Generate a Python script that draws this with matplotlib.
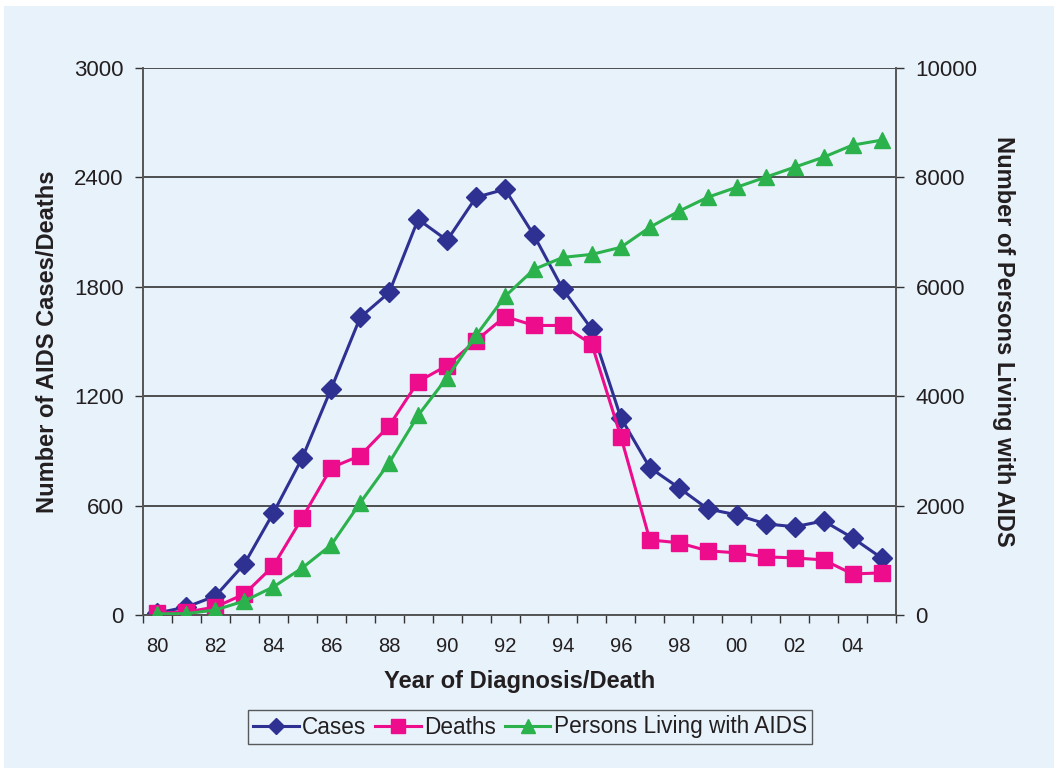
import matplotlib
matplotlib.use("Agg")
import matplotlib.pyplot as plt
from matplotlib.patches import Rectangle
import numpy as np

plt.rcParams['font.family'] = ['Liberation Sans', 'DejaVu Sans']

years = ['80', '81', '82', '83', '84', '85', '86', '87', '88', '89', '90', '91', '92',
         '93', '94', '95', '96', '97', '98', '99', '00', '01', '02', '03', '04', '05']
cases = [11, 44, 104, 280, 560, 862, 1242, 1632, 1769, 2170, 2055, 2291, 2335,
         2082, 1786, 1566, 1082, 808, 698, 582, 549, 500, 484, 516, 423, 313]
deaths = [11, 16, 44, 115, 269, 533, 808, 874, 1038, 1280, 1368, 1505, 1637,
          1588, 1588, 1484, 978, 412, 396, 352, 341, 319, 313, 302, 225, 231]
living = [20, 25, 92, 256, 513, 861, 1282, 2051, 2784, 3650, 4341, 5110, 5824,
          6319, 6538, 6593, 6722, 7088, 7381, 7637, 7820, 8004, 8187, 8370, 8590, 8681]
left_ticks = [0, 600, 1200, 1800, 2400, 3000]
right_ticks = [0, 2000, 4000, 6000, 8000, 10000]

BG = '#E8F2FB'
C_CASES = '#2E3192'
C_DEATHS = '#EC0C8C'
C_LIVING = '#2BB24C'
TXT = '#231F20'

fig = plt.figure(figsize=(10.54, 7.68), dpi=100)
fig.patch.set_facecolor(BG)
fig.patches.append(Rectangle((0, 1 - 6 / 768), 1, 6 / 768, transform=fig.transFigure,
                             facecolor='white', edgecolor='none', zorder=0))
fig.patches.append(Rectangle((0, 0), 4 / 1054, 1, transform=fig.transFigure,
                             facecolor='white', edgecolor='none', zorder=0))

ax = fig.add_axes([143 / 1054, 1 - 615 / 768, (896 - 143) / 1054, (615 - 68) / 768])
ax.set_facecolor(BG)
ax2 = ax.twinx()
ax2.patch.set_visible(False)

x = np.arange(len(years))
l1, = ax.plot(x, cases, color=C_CASES, lw=2.2, marker='D', ms=10.5, label='Cases', zorder=3)
l2, = ax.plot(x, deaths, color=C_DEATHS, lw=2.2, marker='s', ms=12, label='Deaths', zorder=4)
l3, = ax2.plot(x, living, color=C_LIVING, lw=2.2, marker='^', ms=12,
               label='Persons Living with AIDS', zorder=5)

ax.set_xlim(-0.5, len(years) - 0.5)
ax.set_ylim(0, 3000)
ax2.set_ylim(0, 10000)

ax.set_yticks(left_ticks)
ax.set_yticklabels([str(v) for v in left_ticks])
ax2.set_yticks(right_ticks)
ax2.set_yticklabels([str(v) for v in right_ticks])

ax.set_xticks(x[::2])
ax.set_xticklabels(years[::2])
ax.set_xticks(np.arange(-0.5, len(years), 1.0), minor=True)
ax.tick_params(axis='x', which='major', length=0, pad=16, labelsize=14.5, colors=TXT)
ax.tick_params(axis='x', which='minor', length=6, width=1, color='#333333', direction='out')
ax.tick_params(axis='y', length=6, width=1, color='#333333', pad=8, labelsize=16,
               labelcolor=TXT)
ax2.tick_params(axis='y', length=6, width=1, color='#333333', pad=8, labelsize=16,
                labelcolor=TXT)

for a in (ax, ax2):
    a.spines['top'].set_visible(False)
    for s in ('left', 'right', 'bottom'):
        a.spines[s].set_color('#555555')
        a.spines[s].set_linewidth(1.2)

ax.yaxis.grid(True, color='#222222', lw=1.1)
ax.set_axisbelow(True)

ax.set_xlabel('Year of Diagnosis/Death', fontsize=17, fontweight='bold', color=TXT,
              labelpad=10)
ax.set_ylabel('Number of AIDS Cases/Deaths', fontsize=17, fontweight='bold', color=TXT,
              labelpad=11)
ax2.set_ylabel('Number of Persons Living with AIDS', fontsize=17, fontweight='bold',
               color=TXT, rotation=270, labelpad=27)

leg = fig.legend(handles=[l1, l2, l3], loc='center', bbox_to_anchor=(530 / 1054, 1 - 727 / 768),
                 ncol=3, frameon=True, fancybox=False, fontsize=16.3, handlelength=2.0,
                 handletextpad=0.15, columnspacing=0.4, borderpad=0.25, markerscale=0.8)
leg.get_frame().set_edgecolor('#333333')
leg.get_frame().set_facecolor(BG)
leg.get_frame().set_linewidth(1.0)
for t in leg.get_texts():
    t.set_color(TXT)

fig.savefig('out.png', dpi=100, facecolor=fig.get_facecolor())
